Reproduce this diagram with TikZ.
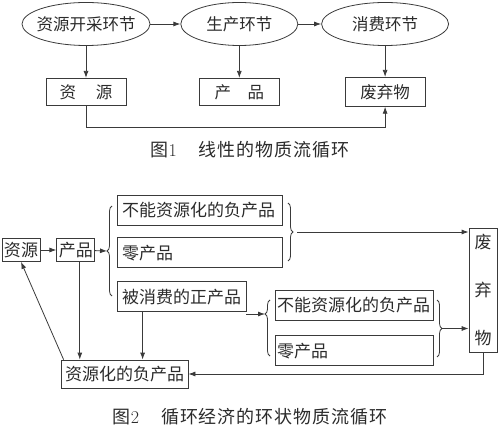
\documentclass[tikz,border=0pt]{standalone}
\usepackage{fontspec}
\newfontfamily\cjk{Noto Sans CJK SC}
\newfontfamily\cjkcap[LetterSpace=5]{Noto Sans CJK SC}
\usepackage{tikz}
\usetikzlibrary{shapes.geometric, arrows.meta, positioning, calc, decorations.pathreplacing}
\definecolor{inkgray}{HTML}{3A3A3A}
\definecolor{textgray}{HTML}{2B2B2B}

\begin{document}
\begin{tikzpicture}[
  x=1pt, y=-1pt,
  stage/.style={ellipse, draw=inkgray, line width=0.8pt, minimum width=#1, minimum height=43pt, inner xsep=-8pt, inner ysep=0pt, text=textgray, font=\cjk\fontsize{16.5}{18}\selectfont},
  item/.style={rectangle, draw=inkgray, line width=0.8pt, minimum width=80pt, minimum height=27pt, inner sep=2pt, text=textgray, font=\cjk\fontsize{16.5}{18}\selectfont},
  part/.style={rectangle, draw=inkgray, line width=0.8pt, minimum height=30pt, inner xsep=3pt, inner ysep=2pt, text=textgray, font=\cjk\fontsize{17}{19}\selectfont},
  arr/.style={-{Latex[length=7pt, width=5pt]}, inkgray, line width=0.8pt},
  brc/.style={decorate, decoration={brace, amplitude=5pt, aspect=#1}, inkgray, line width=0.8pt},
  caption/.style={text=textgray, font=\cjkcap\fontsize{18}{20}\selectfont},
]
  \useasboundingbox (0,0) rectangle (500,427);

  % Figure 1: linear flow
  \node[stage=128pt] (e1) at (86,24) {资源开采环节};
  \node[stage=117pt, right=30pt of e1] (e2) {生产环节};
  \node[stage=127pt, right=23pt of e2] (e3) {消费环节};

  \node[item, below=32pt of e1] (b1) {资\hspace{1.2em}源};
  \node[item, below=32pt of e2] (b2) {产\hspace{1em}品};
  \node[item, minimum height=29pt, below=31pt of e3] (b3) {废弃物};

  \draw[arr] (e1) -- (e2);
  \draw[arr] (e2) -- (e3);
  \draw[arr] (e1.south) -- (b1.north);
  \draw[arr] (e2.south) -- (b2.north);
  \draw[arr] (e3.south) -- (b3.north);
  \draw[arr] (b1.south) -- ++(0,22) -| (b3.south);

  \node[caption] (cap1) at (250,150) {图{\rmfamily 1}\hspace{22pt}线性的物质流循环};

  % Figure 2: cyclic flow
  \node[part, minimum width=38pt, minimum height=23pt, inner sep=0pt] (r1) at (21,250) {资源};
  \node[part, minimum width=38pt, minimum height=23pt, inner sep=0pt, right=16pt of r1] (r2) {产品};

  \node[part, text width=155pt, inner xsep=5pt, align=left] (n1) at (199.5,210) {不能资源化的负产品};
  \node[part, text width=155pt, inner xsep=5pt, align=left, below=12pt of n1] (n2) {零产品};
  \node[part, inner xsep=5pt, below=13pt of n2.south west, anchor=north west] (n3) {被消费的正产品};

  \node[part, text width=154pt, inner xsep=2pt, align=left] (m1) at (354,305) {不能资源化的负产品};
  \node[part, text width=154pt, inner xsep=2pt, align=left, below=15pt of m1] (m2) {零产品};

  \node[part, minimum width=28pt, minimum height=124pt, inner sep=0pt, align=center, font=\cjk\fontsize{17}{48}\selectfont] (wst) at (483,290) {废\\弃\\物};
  \node[part, minimum width=127pt, minimum height=28pt] (rec) at (124.5,374) {资源化的负产品};

  % braces
  \draw[brc=0.5] (112,296) -- (112,206);
  \coordinate (t1) at (107,251);
  \draw[brc=0.5] (288,203) -- (288,261);
  \coordinate (t2) at (293,232);
  \draw[brc=0.75] (270,356) -- (270,300);
  \coordinate (t3) at (265,314);
  \draw[brc=0.5] (437,300) -- (437,357);
  \coordinate (t4) at (442,328.5);

  \draw[arr] (r1) -- (r2);
  \draw[arr] (r2) -- (t1);
  \draw[arr] ([xshift=4pt]t2) -- (t2 -| wst.west);
  \draw[arr] (n3.south east |- t3) -- (t3);
  \draw[arr] (t4) -- (t4 -| wst.west);

  \coordinate (pdrop) at ([xshift=4pt]r2.south);
  \coordinate (cdrop) at ([xshift=26pt]n3.south west);
  \draw[arr] (pdrop) -- (pdrop |- rec.north);
  \draw[arr] (cdrop) -- (cdrop |- rec.north);
  \draw[arr] ([xshift=3pt]rec.north west) -- (r1.south);
  \draw[arr] (wst.south) |- (rec.east);

  \node[caption] (cap2) at (250,417) {图{\rmfamily 2}\hspace{22pt}循环经济的环状物质流循环};
\end{tikzpicture}
\end{document}
